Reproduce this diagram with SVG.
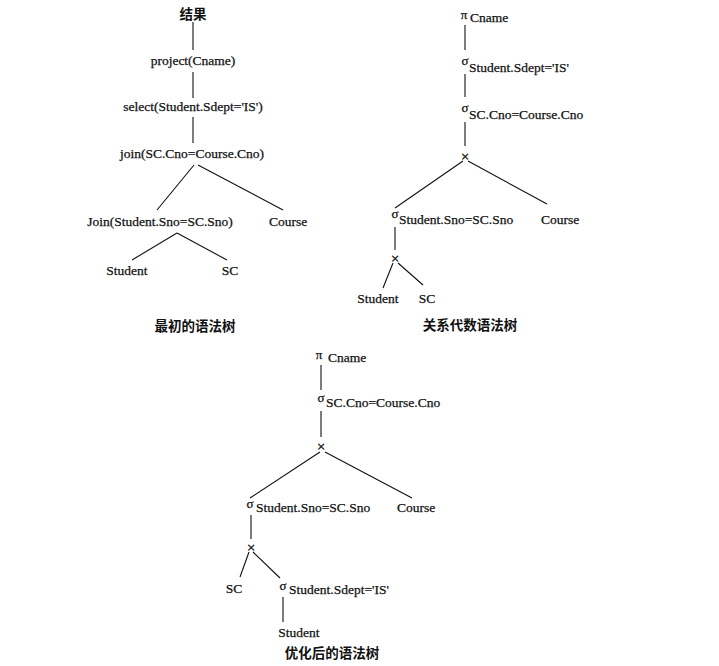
<svg xmlns="http://www.w3.org/2000/svg" width="719" height="666" viewBox="0 0 719 666">
<style>
text{font-family:"Liberation Serif","Times New Roman",serif;font-size:13.5px;fill:#111;stroke:#111;stroke-width:0.25}
.m{text-anchor:middle}
.cjk{font-family:"Noto Sans CJK SC",sans-serif;font-size:13.5px;font-weight:bold;stroke:none}
.op{font-size:13px}
.x{font-family:"DejaVu Sans",sans-serif;font-size:11px;text-anchor:middle}
line{stroke:#111;stroke-width:1.1}
</style>
<rect width="719" height="666" fill="#fff"/>
<g id="connectors">
<line x1="193" y1="22" x2="193" y2="50"/>
<line x1="193" y1="72" x2="193" y2="98"/>
<line x1="193" y1="117" x2="193" y2="143"/>
<line x1="194" y1="165" x2="157" y2="210"/>
<line x1="198" y1="165" x2="283" y2="210"/>
<line x1="177" y1="233" x2="132" y2="260"/>
<line x1="177" y1="233" x2="227" y2="260"/>
<line x1="465" y1="25" x2="465" y2="50"/>
<line x1="465" y1="74" x2="465" y2="97"/>
<line x1="465" y1="122" x2="465" y2="146"/>
<line x1="463" y1="161" x2="395" y2="208"/>
<line x1="468" y1="161" x2="547" y2="204"/>
<line x1="395" y1="227" x2="395" y2="250"/>
<line x1="393" y1="263" x2="383" y2="288"/>
<line x1="398" y1="263" x2="423" y2="285"/>
<line x1="321" y1="365" x2="321" y2="390"/>
<line x1="321" y1="411" x2="321" y2="437"/>
<line x1="320" y1="452" x2="250" y2="498"/>
<line x1="325" y1="452" x2="412" y2="498"/>
<line x1="251" y1="515" x2="251" y2="539"/>
<line x1="249" y1="552" x2="240" y2="577"/>
<line x1="253" y1="552" x2="280" y2="578"/>
<line x1="283" y1="597" x2="283" y2="622"/>
</g>
<g id="t1-result"><text class="cjk m" x="193" y="19">结果</text></g>
<g id="t1-project"><text class="m" x="193" y="65">project(Cname)</text></g>
<g id="t1-select"><text class="m" x="193" y="111">select(Student.Sdept='IS')</text></g>
<g id="t1-join1"><text class="m" x="192" y="158">join(SC.Cno=Course.Cno)</text></g>
<g id="t1-join2"><text class="m" x="160" y="226">Join(Student.Sno=SC.Sno)</text></g>
<g id="t1-course"><text class="m" x="288" y="226">Course</text></g>
<g id="t1-student"><text class="m" x="127" y="275">Student</text></g>
<g id="t1-sc"><text class="m" x="230" y="275">SC</text></g>
<g id="t1-caption"><text class="cjk m" x="195" y="331">最初的语法树</text></g>
<g id="t2-pi"><text class="op m" x="464" y="19">π</text><text x="470" y="22">Cname</text></g>
<g id="t2-sel1"><text class="op m" x="465" y="65">σ</text><text x="469" y="72">Student.Sdept='IS'</text></g>
<g id="t2-sel2"><text class="op m" x="465" y="112">σ</text><text x="469" y="119">SC.Cno=Course.Cno</text></g>
<g id="t2-cross1"><text class="x" x="465" y="160">×</text></g>
<g id="t2-sel3"><text class="op m" x="395" y="218">σ</text><text x="399" y="224">Student.Sno=SC.Sno</text></g>
<g id="t2-course"><text class="m" x="560" y="224">Course</text></g>
<g id="t2-cross2"><text class="x" x="395" y="262">×</text></g>
<g id="t2-student"><text class="m" x="378" y="303">Student</text></g>
<g id="t2-sc"><text class="m" x="427" y="303">SC</text></g>
<g id="t2-caption"><text class="cjk m" x="470" y="330">关系代数语法树</text></g>
<g id="t3-pi"><text class="op m" x="319" y="359">π</text><text x="328" y="362">Cname</text></g>
<g id="t3-sel1"><text class="op m" x="321" y="402">σ</text><text x="326" y="407">SC.Cno=Course.Cno</text></g>
<g id="t3-cross1"><text class="x" x="321" y="450">×</text></g>
<g id="t3-sel2"><text class="op m" x="250" y="508">σ</text><text x="256" y="512">Student.Sno=SC.Sno</text></g>
<g id="t3-course"><text class="m" x="416" y="512">Course</text></g>
<g id="t3-cross2"><text class="x" x="251" y="551">×</text></g>
<g id="t3-sc"><text class="m" x="234" y="593">SC</text></g>
<g id="t3-sel3"><text class="op m" x="283" y="590">σ</text><text x="289" y="594">Student.Sdept='IS'</text></g>
<g id="t3-student"><text class="m" x="299" y="637">Student</text></g>
<g id="t3-caption"><text class="cjk m" x="332" y="658">优化后的语法树</text></g>
</svg>
